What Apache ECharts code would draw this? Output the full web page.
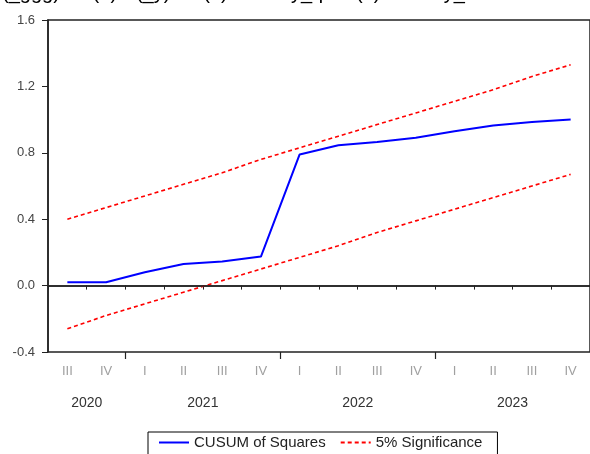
<!DOCTYPE html>
<html>
<head>
<meta charset="utf-8">
<script src="https://cdn.jsdelivr.net/npm/echarts@6/dist/echarts.min.js"></script>
<style>
  html, body { margin: 0; padding: 0; background: #fff; }
  #chart-container { width: 590px; height: 454px; }
</style>
</head>
<body>
<div id="chart-container"></div>
<script>
var dom = document.getElementById('chart-container');
var myChart = echarts.init(dom, null, { renderer: 'canvas' });

// quarterly sample
var quarters = ['2020Q3', '2020Q4', '2021Q1', '2021Q2', '2021Q3', '2021Q4', '2022Q1',
                '2022Q2', '2022Q3', '2022Q4', '2023Q1', '2023Q2', '2023Q3', '2023Q4'];
var romans = { '1': 'I', '2': 'II', '3': 'III', '4': 'IV' };
var years = ['2020', '2021', '2022', '2023'];

var cusum = [0.02, 0.02, 0.08, 0.13, 0.145, 0.175, 0.79, 0.845, 0.865, 0.89, 0.93, 0.965, 0.985, 1.00];
var upper = [0.40, 0.47, 0.54, 0.61, 0.68, 0.76, 0.83, 0.90, 0.97, 1.04, 1.11, 1.18, 1.26, 1.33];
var lower = [-0.26, -0.18, -0.11, -0.04, 0.03, 0.10, 0.17, 0.24, 0.32, 0.39, 0.46, 0.53, 0.60, 0.67];

var yMin = -0.4, yMax = 1.6, yStep = 0.4;

// year label positions (middle of each year's quarters) and year boundaries
var yearCenters = [], yearBounds = [];
years.forEach(function (y) {
  var idx = [];
  quarters.forEach(function (q, i) { if (q.slice(0, 4) === y) idx.push(i); });
  yearCenters.push((idx[0] + idx[idx.length - 1]) / 2 + 0.5);
  if (idx[0] > 0) yearBounds.push(idx[0]);
});

var font = 'Liberation Sans';
var axisColor = '#222';

var option = {
  animation: false,
  graphic: [{
    type: 'text',
    x: 2,
    y: 3,
    style: {
      text: '(_ggg) = c(1)*d(_y) + c(2)*dummy_q + c(3)*dummy_t',
      fontFamily: font,
      fontSize: 20,
      fill: '#000',
      verticalAlign: 'bottom'
    }
  }],
  grid: {
    left: 48, top: 20, width: 549, height: 332,
    show: true, borderColor: axisColor, borderWidth: 1.5
  },
  legend: {
    left: 148, top: 432,
    padding: [3, 15, 10, 10],
    borderColor: '#000', borderWidth: 1,
    backgroundColor: '#fff',
    itemWidth: 30, itemHeight: 12, itemGap: 14,
    itemStyle: { opacity: 0 },
    textStyle: { fontFamily: font, fontSize: 15, color: '#222' },
    data: ['CUSUM of Squares', '5% Significance']
  },
  xAxis: [{
    type: 'category',
    data: quarters,
    boundaryGap: true,
    axisLine: { show: true, lineStyle: { color: axisColor, width: 1.5 } },
    axisTick: { show: true, interval: 0, length: 4, lineStyle: { color: axisColor } },
    axisLabel: {
      interval: 0, margin: 13,
      fontFamily: font, fontSize: 13, color: '#a0a0a0',
      formatter: function (v) { return romans[v.slice(5)]; }
    }
  }, {
    type: 'value',
    min: 0, max: quarters.length,
    position: 'bottom',
    axisLine: { show: false },
    splitLine: { show: false },
    axisTick: { show: true, customValues: yearBounds, length: 7, lineStyle: { color: axisColor, width: 1.2 } },
    axisLabel: {
      customValues: yearCenters, margin: 44,
      fontFamily: font, fontSize: 14, color: '#333',
      formatter: function (v) { return years[yearCenters.indexOf(v)] || ''; }
    }
  }],
  yAxis: {
    type: 'value',
    min: yMin, max: yMax, interval: yStep,
    axisLine: { show: true, lineStyle: { color: axisColor, width: 1.5 } },
    axisTick: { show: true, length: 6, lineStyle: { color: axisColor } },
    splitLine: { show: false },
    axisLabel: {
      margin: 13,
      fontFamily: font, fontSize: 13, color: '#444',
      formatter: function (v) { return v.toFixed(1); }
    }
  },
  series: [{
    name: 'CUSUM of Squares',
    type: 'line',
    data: cusum,
    symbol: 'none',
    lineStyle: { color: '#0000ff', width: 2 },
    itemStyle: { color: '#0000ff' },
    z: 3,
    markLine: {
      silent: true, symbol: 'none', label: { show: false },
      lineStyle: { color: '#222', type: 'solid', width: 1.5 },
      data: [{ yAxis: 0 }]
    }
  }, {
    name: '5% Significance',
    type: 'line',
    data: upper,
    symbol: 'none',
    lineStyle: { color: '#ff0000', width: 1.6, type: [4, 3] },
    itemStyle: { color: '#ff0000' }
  }, {
    name: '5% Significance',
    type: 'line',
    data: lower,
    symbol: 'none',
    lineStyle: { color: '#ff0000', width: 1.6, type: [4, 3] },
    itemStyle: { color: '#ff0000' }
  }]
};

myChart.setOption(option);
window.addEventListener('resize', myChart.resize);
</script>
</body>
</html>
